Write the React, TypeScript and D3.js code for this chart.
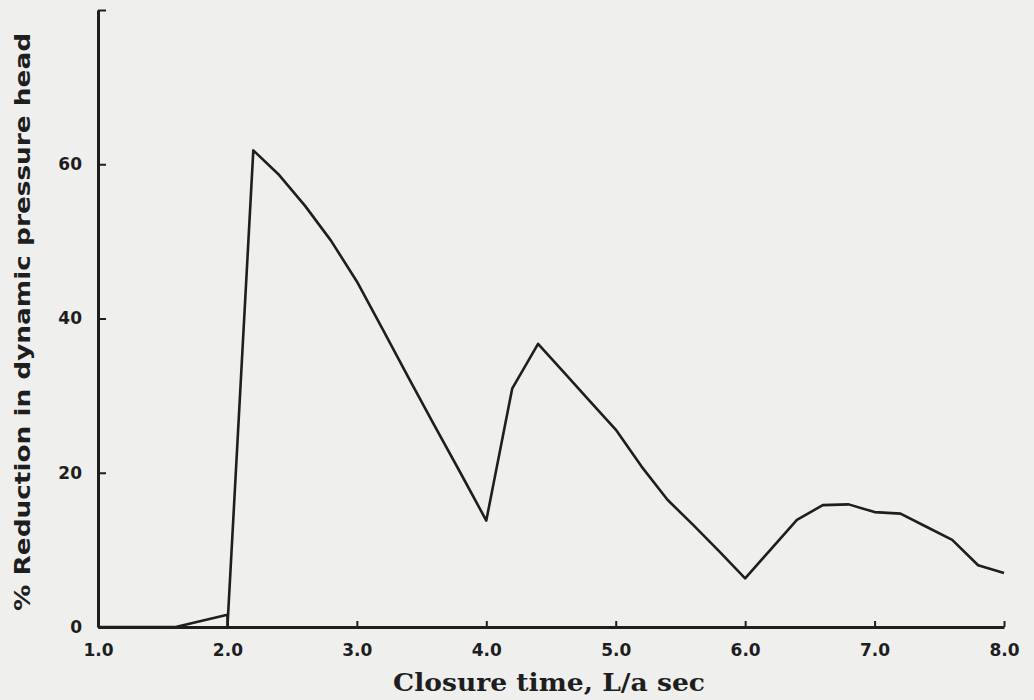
import React, { useEffect, useRef } from "react";
import * as d3 from "d3";

// closure time (L/a sec) vs % reduction in dynamic pressure head
const closureTime = [1.0, 1.2, 1.4, 1.6, 2.0, 2.0, 2.2, 2.4, 2.6, 2.8, 3.0, 3.2, 3.4, 3.6, 3.8, 4.0, 4.2, 4.4, 4.6, 4.8, 5.0, 5.2, 5.4, 5.6, 5.8, 6.0, 6.2, 6.4, 6.6, 6.8, 7.0, 7.2, 7.4, 7.6, 7.8, 8.0];
const reduction = [0, 0, 0, 0, 1.6, 0, 61.8, 58.6, 54.6, 50.1, 44.8, 38.6, 32.3, 26.1, 20.0, 13.8, 30.9, 36.7, 33.0, 29.3, 25.6, 20.8, 16.5, 13.2, 9.8, 6.3, 10.1, 13.9, 15.8, 15.9, 14.9, 14.7, 13.0, 11.3, 8.0, 7.0];
const xTicks = [1, 2, 3, 4, 5, 6, 7, 8];
const yTicks = [0, 20, 40, 60, 80];
const yTickLabels = ["0", "20", "40", "60", ""];

export default function App() {
  const ref = useRef<SVGSVGElement>(null);

  useEffect(() => {
    const svg = d3.select(ref.current);
    svg.selectAll("*").remove();

    const W = 1034, H = 700;
    const left = 98, right = 1004, top = 10, bottom = 627;

    svg.append("rect").attr("width", W).attr("height", H).attr("fill", "#efefee");

    const x = d3.scaleLinear().domain([1, 8]).range([left, right]);
    const y = d3.scaleLinear().domain([0, 80]).range([bottom, top]);

    const ink = "#1e1e1e";

    // x axis: ticks point inward (up)
    const xAxis = svg.append("g")
      .attr("transform", "translate(0," + bottom + ")")
      .call(d3.axisBottom(x).tickValues(xTicks).tickSizeInner(-6).tickSizeOuter(0).tickPadding(17)
        .tickFormat(d => d3.format(".1f")(d as number)));
    xAxis.select(".domain").attr("stroke", ink).attr("stroke-width", 3);
    xAxis.selectAll(".tick line").attr("stroke", ink).attr("stroke-width", 2);
    xAxis.selectAll(".tick text")
      .attr("fill", ink)
      .style("font-family", "'DejaVu Sans', sans-serif")
      .style("font-weight", "bold")
      .style("font-size", "17px");

    // y axis: ticks point inward (right)
    const yAxis = svg.append("g")
      .attr("transform", "translate(" + left + ",0)")
      .call(d3.axisLeft(y).tickValues(yTicks).tickSizeInner(-8).tickSizeOuter(0).tickPadding(16)
        .tickFormat((d, i) => yTickLabels[i]));
    yAxis.select(".domain").attr("stroke", ink).attr("stroke-width", 3);
    yAxis.selectAll(".tick line").attr("stroke", ink).attr("stroke-width", 2);
    yAxis.selectAll(".tick text")
      .attr("fill", ink)
      .style("font-family", "'DejaVu Sans', sans-serif")
      .style("font-weight", "bold")
      .style("font-size", "17px");

    const pts: [number, number][] = closureTime.map((t, i) => [t, reduction[i]]);
    const line = d3.line<[number, number]>().x(d => x(d[0])).y(d => y(d[1]));

    svg.append("path")
      .datum(pts)
      .attr("d", line)
      .attr("fill", "none")
      .attr("stroke", ink)
      .attr("stroke-width", 2.6)
      .attr("stroke-linejoin", "round");

    // axis titles
    svg.append("text")
      .attr("x", 549)
      .attr("y", 691)
      .attr("text-anchor", "middle")
      .attr("textLength", 312)
      .attr("lengthAdjust", "spacingAndGlyphs")
      .attr("fill", ink)
      .style("font-family", "'DejaVu Serif', serif")
      .style("font-weight", "bold")
      .style("font-size", "25px")
      .text("Closure time, L/a sec");

    svg.append("text")
      .attr("transform", "translate(30,322) rotate(-90)")
      .attr("text-anchor", "middle")
      .attr("textLength", 578)
      .attr("lengthAdjust", "spacingAndGlyphs")
      .attr("fill", ink)
      .style("font-family", "'DejaVu Sans', sans-serif")
      .style("font-weight", "bold")
      .style("font-size", "22px")
      .text("% Reduction in dynamic pressure head");
  }, []);

  return (
    <svg ref={ref} width={1034} height={700}
      style={{ position: "absolute", left: 0, top: 0, display: "block" }} />
  );
}
